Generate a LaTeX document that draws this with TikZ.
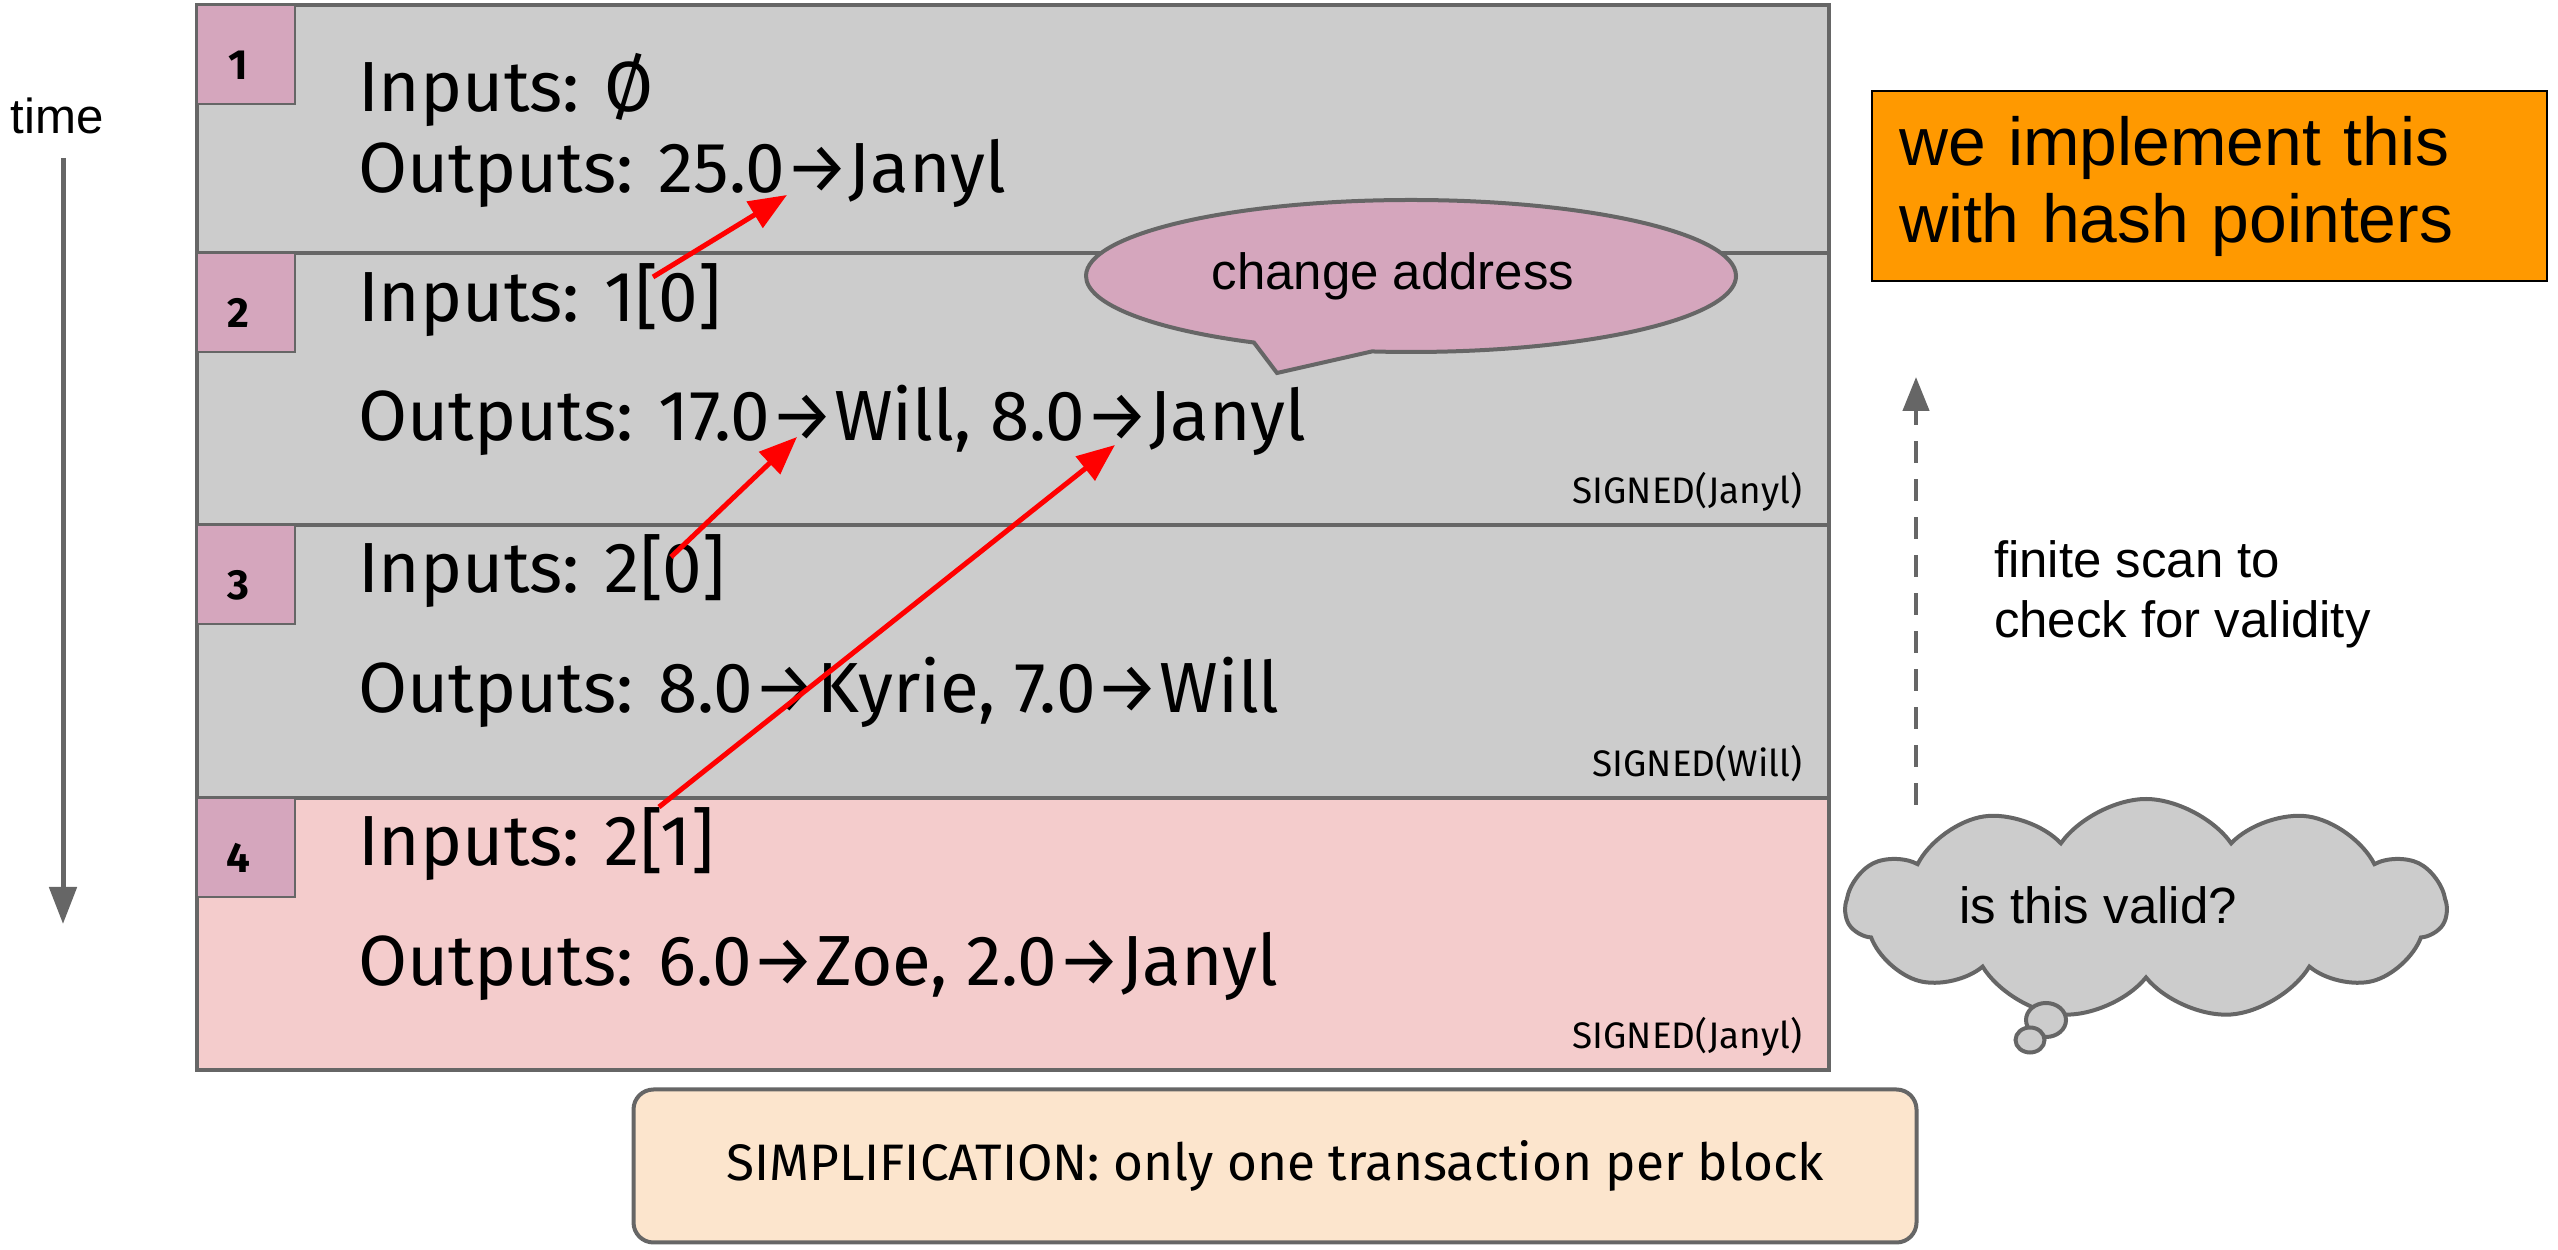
\documentclass[tikz,border=0pt]{standalone}
\usepackage{fontspec}
\setmainfont{Fira Sans}
\newfontfamily\arialfont{Liberation Sans}
\usetikzlibrary{arrows.meta,positioning,shapes.symbols,shapes.callouts,shapes.geometric}

\definecolor{blockgray}{HTML}{CCCCCC}
\definecolor{blockpink}{HTML}{F4CCCC}
\definecolor{numpink}{HTML}{D5A6BD}
\definecolor{linegray}{HTML}{666666}
\definecolor{hashorange}{HTML}{FF9900}
\definecolor{notebeige}{HTML}{FCE5CD}

\begin{document}
\begin{tikzpicture}[
        x=0.1mm, y=-0.1mm,
        every node/.style={inner sep=0pt, outer sep=0pt},
        block/.style={draw=linegray, line width=0.4mm, fill=blockgray, minimum width=163.2mm},
        numbox/.style={draw=linegray, line width=0.25mm, fill=numpink, minimum width=9.8mm, minimum height=9.9mm,
            text height=5.1mm, text depth=0pt, font=\bfseries\fontsize{12}{14}\selectfont},
        txline/.style={anchor=base west, font=\fontsize{20.2}{24}\selectfont},
        signed/.style={anchor=base east, font=\fontsize{10.5}{12}\selectfont},
        link/.style={-{Triangle[length=3.8mm,width=3mm]}, draw=red, line width=0.5mm},
        timeline/.style={-{Triangle[length=3.7mm,width=2.7mm]}, draw=linegray, line width=0.5mm},
        scan/.style={-{Triangle[length=3.4mm,width=2.6mm]}, draw=linegray, line width=0.45mm, dash pattern=on 2.2mm off 1.6mm},
        arial/.style={font=\arialfont\fontsize{14.5}{17}\selectfont},
        hashbox/.style={draw=black, line width=0.2mm, fill=hashorange, minimum width=67.5mm, minimum height=19mm,
            text width=62.1mm, inner xsep=2.7mm, align=left, font=\arialfont\fontsize{19.3}{21.9}\selectfont},
        notebox/.style={draw=linegray, line width=0.4mm, fill=notebeige, rounded corners=2mm,
            minimum width=128.3mm, minimum height=15.3mm, font=\fontsize{14.6}{17}\selectfont},
        puff/.style={ellipse, draw=linegray, line width=0.4mm, fill=blockgray}
    ]

    \useasboundingbox (0,0) rectangle (2558,1250);

    % Blocks
    \node[block, minimum height=24.8mm] (b1) at (1013,129) {};
    \node[block, minimum height=27.2mm, below=0pt of b1] (b2) {};
    \node[block, minimum height=27.3mm, below=0pt of b2] (b3) {};
    \node[block, minimum height=27.2mm, below=0pt of b3, fill=blockpink] (b4) {};

    \node[numbox, below right=0pt of b1.north west] (n1) {1\kern1.6mm};
    \node[numbox, below right=0pt of b2.north west] (n2) {2\kern1.6mm};
    \node[numbox, below right=0pt of b3.north west] (n3) {3\kern1.6mm};
    \node[numbox, below right=0pt of b4.north west] (n4) {4\kern1.6mm};

    % Transactions
    \node[txline] (in1) at (358,112) {Inputs: Ø};
    \node[txline] (out1) at (358,193) {Outputs: 25.0→Janyl};
    \node[txline] (in2) at (358,322) {Inputs: 1[0]};
    \node[txline] (out2) at (358,441) {Outputs: 17.0→Will, 8.0→Janyl};
    \node[txline] (in3) at (358,593) {Inputs: 2[0]};
    \node[txline] (out3) at (358,713) {Outputs: 8.0→Kyrie, 7.0→Will};
    \node[txline] (in4) at (358,866) {Inputs: 2[1]};
    \node[txline] (out4) at (358,986) {Outputs: 6.0→Zoe, 2.0→Janyl};

    \node[signed] (sig2) at ([xshift=-2.7mm, yshift=2.1mm]b2.south east) {SIGNED(Janyl)};
    \node[signed] (sig3) at ([xshift=-2.7mm, yshift=2.1mm]b3.south east) {SIGNED(Will)};
    \node[signed] (sig4) at ([xshift=-2.7mm, yshift=2.1mm]b4.south east) {SIGNED(Janyl)};

    % Notes
    \node[ellipse callout, draw=linegray, line width=0.4mm, fill=numpink, minimum width=65mm, minimum height=15.2mm,
        callout absolute pointer={(1277,373)}, callout pointer arc=22, arial] (change) at (1411,276) {change address\kern3.6mm};

    \node[arial, font=\arialfont\fontsize{14}{16}\selectfont] (time) at (57,116) {time};
    \node[hashbox] (hash) at (2209.5,186) {we implement this\\with hash pointers};
    \node[arial, anchor=west, align=left] (finite) at (1994,594) {finite scan to\\check for validity};

    \node[cloud, cloud puffs=11, cloud puff arc=110, aspect=2.7, draw=linegray, line width=0.4mm, fill=blockgray,
        minimum width=60mm, minimum height=22mm] (doubt) at (2146,909) {};
    \node[puff, minimum width=4mm, minimum height=3.4mm] (dot1) at (2046,1020) {};
    \node[puff, minimum width=2.9mm, minimum height=2.5mm] (dot2) at (2030,1040) {};
    \node[arial] (valid) at (2098,905) {is this valid?};

    \node[notebox] (simple) at (1275,1166) {SIMPLIFICATION: only one transaction per block};

    % Edges
    \coordinate (src2) at (653,277);
    \coordinate (dst1) at (787,195);
    \coordinate (src3) at (671,557);
    \coordinate (dst2a) at (797,437);
    \coordinate (src4) at (659,807);
    \coordinate (dst2b) at (1115,445);
    \coordinate (tstart) at (63,158);
    \coordinate (tend) at (63,924);
    \coordinate (sstart) at (1916,805);
    \coordinate (send) at (1916,377);

    \draw[link] (src2) -- (dst1);
    \draw[link] (src3) -- (dst2a);
    \draw[link] (src4) -- (dst2b);
    \draw[timeline] (tstart) -- (tend);
    \draw[scan] (sstart) -- (send);

\end{tikzpicture}
\end{document}
